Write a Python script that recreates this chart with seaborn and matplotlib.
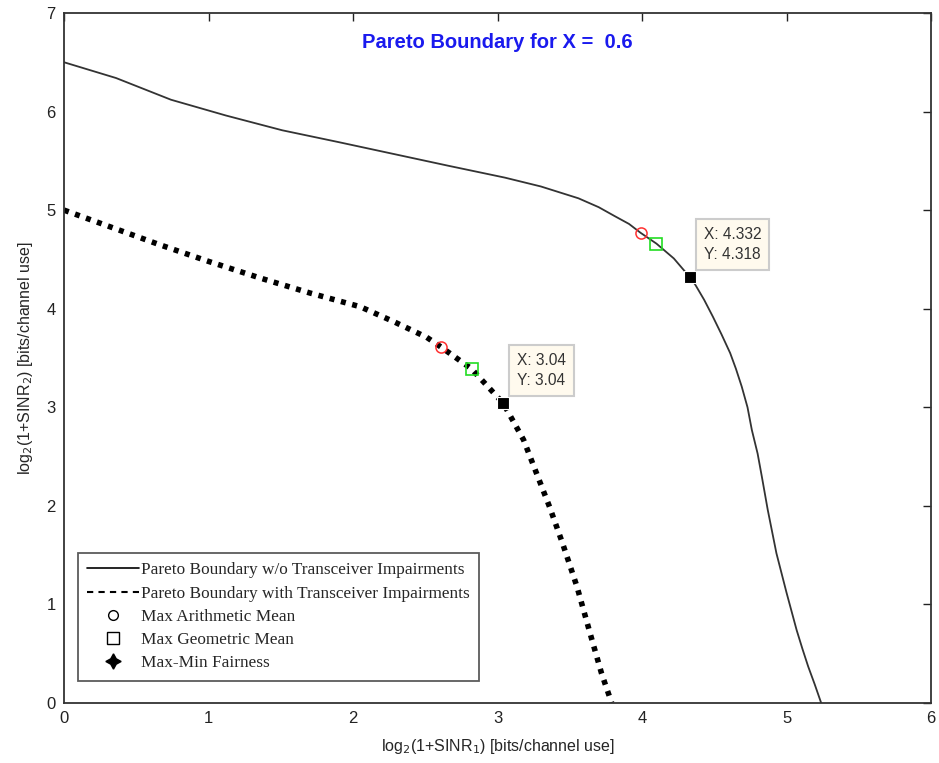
import numpy as np
import pandas as pd
import matplotlib
matplotlib.use("Agg")
import matplotlib.pyplot as plt
from matplotlib.lines import Line2D
import seaborn as sns

# Pareto boundary without transceiver impairments
ideal_r1 = [0.00, 0.36, 0.74, 1.12, 1.51, 1.90, 2.28, 2.66, 3.05, 3.30, 3.56, 3.70,
            3.81, 3.91, 3.99, 4.10, 4.22, 4.332, 4.37, 4.43, 4.49, 4.55, 4.61, 4.65,
            4.69, 4.73, 4.76, 4.80, 4.83, 4.87, 4.90, 4.93, 4.965, 5.00, 5.035,
            5.07, 5.11, 5.15, 5.195, 5.24]
ideal_r2 = [6.50, 6.34, 6.12, 5.96, 5.81, 5.69, 5.57, 5.45, 5.33, 5.24, 5.12, 5.03,
            4.94, 4.86, 4.77, 4.66, 4.51, 4.318, 4.24, 4.09, 3.92, 3.74, 3.55, 3.39,
            3.21, 3.00, 2.77, 2.53, 2.29, 1.96, 1.74, 1.52, 1.32, 1.12, 0.93,
            0.74, 0.55, 0.37, 0.19, 0.00]

# Pareto boundary with transceiver impairments
impair_r1 = [0.00, 0.66, 1.00, 1.36, 1.70, 2.05, 2.28, 2.51, 2.61, 2.82, 3.04,
             3.18, 3.27, 3.36, 3.45, 3.55, 3.64, 3.72, 3.79]
impair_r2 = [5.00, 4.65, 4.48, 4.31, 4.16, 4.02, 3.87, 3.71, 3.61, 3.39, 3.04,
             2.67, 2.33, 1.99, 1.62, 1.18, 0.71, 0.30, 0.00]

# Operating points: arithmetic mean, geometric mean, max-min fairness
ideal_am = (3.99, 4.77)
ideal_gm = (4.10, 4.66)
ideal_mm = (4.332, 4.318)
impair_am = (2.61, 3.61)
impair_gm = (2.82, 3.39)
impair_mm = (3.04, 3.04)

legend_labels = ["Pareto Boundary w/o Transceiver Impairments",
                 "Pareto Boundary with Transceiver Impairments",
                 "Max Arithmetic Mean",
                 "Max Geometric Mean",
                 "Max-Min Fairness"]

sns.set_theme(style="white")
plt.rcParams["font.family"] = ["Liberation Sans", "DejaVu Sans"]

fig = plt.figure(figsize=(9.39, 7.63), dpi=100)
ax = fig.add_axes([0.0682, 0.0786, 0.9233, 0.9044])

df_ideal = pd.DataFrame({"r1": ideal_r1, "r2": ideal_r2})
df_imp = pd.DataFrame({"r1": impair_r1, "r2": impair_r2})

sns.lineplot(data=df_ideal, x="r1", y="r2", sort=False, estimator=None,
             color="#333333", linewidth=1.3, ax=ax)
sns.lineplot(data=df_imp, x="r1", y="r2", sort=False, estimator=None,
             color="black", linewidth=4.0, ax=ax)
ax.lines[-1].set_linestyle((0, (0.9, 1.2)))

for am, gm, mm in [(ideal_am, ideal_gm, ideal_mm), (impair_am, impair_gm, impair_mm)]:
    ax.plot(*am, marker="o", markersize=8, markerfacecolor="none",
            markeredgecolor="#ff3030", markeredgewidth=1.1, linestyle="none", zorder=5)
    ax.plot(*gm, marker="s", markersize=8, markerfacecolor="none",
            markeredgecolor="#22dd22", markeredgewidth=1.2, linestyle="none", zorder=5)
    ax.plot(*mm, marker="s", markersize=9, markerfacecolor="black",
            markeredgecolor="white", markeredgewidth=0.8, linestyle="none", zorder=6)

# Data tips
tip_box = dict(boxstyle="square,pad=0.5", facecolor="#fffaee", edgecolor="#cccccc", linewidth=1.5)
for pt in (ideal_mm, impair_mm):
    ax.annotate(f"X: {pt[0]}\nY: {pt[1]}", xy=pt, xytext=(10, 11),
                textcoords="offset points", fontsize=11.2, color="#333333",
                bbox=tip_box, va="bottom", ha="left", linespacing=1.45, zorder=7)

ax.set_xlim(0, 6)
ax.set_ylim(0, 7)
ax.set_xticks(range(0, 7))
ax.set_yticks(range(0, 8))
ax.tick_params(direction="in", length=6, width=1, top=True, right=True,
               labelsize=12, colors="#222222", pad=6)
for s in ax.spines.values():
    s.set_color("#333333")
    s.set_linewidth(1.3)

ax.set_xlabel(r"log$_2$(1+SINR$_1$) [bits/channel use]", fontsize=11.5, labelpad=8)
ax.set_ylabel(r"log$_2$(1+SINR$_2$) [bits/channel use]", fontsize=11.5, labelpad=8)
ax.set_title("Pareto Boundary for X =  0.6", color="#1a1aee", fontweight="bold",
             fontsize=14.5, y=0.937)

handles = [
    Line2D([], [], color="black", linewidth=1.2, linestyle="-"),
    Line2D([], [], color="black", linewidth=1.5, linestyle=(0, (3, 2.5))),
    Line2D([], [], color="black", marker="o", markerfacecolor="none", linestyle="none", markersize=7),
    Line2D([], [], color="black", marker="s", markerfacecolor="none", linestyle="none", markersize=8),
    Line2D([], [], color="black", marker=(4, 1, 0), linestyle="none", markersize=11),
]
leg = ax.legend(handles, legend_labels, loc="lower left", bbox_to_anchor=(0.016, 0.032),
                prop={"family": ["Liberation Serif"], "size": 12.4},
                frameon=True, fancybox=False, handlelength=3.0, handletextpad=0.1,
                labelspacing=0.42, borderpad=0.55, borderaxespad=0)
leg.get_frame().set_edgecolor("#333333")
leg.get_frame().set_linewidth(1.3)

fig.savefig("out.png", dpi=100)
